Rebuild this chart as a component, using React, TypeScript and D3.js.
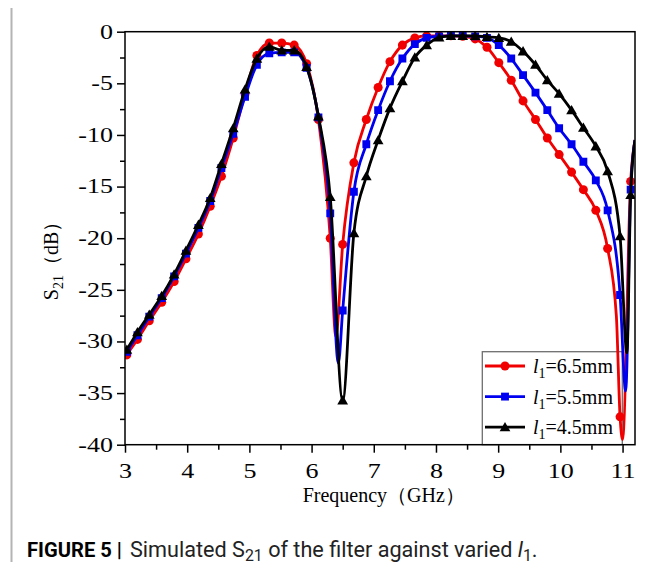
import React, { useEffect, useRef } from 'react';
import * as d3 from 'd3';

// marker frequencies (GHz), shared by the three curves
const freqs = [
  3.03, 3.2, 3.39, 3.59, 3.79, 3.98, 4.18, 4.37, 4.55, 4.74, 4.93, 5.12, 5.32, 5.52, 5.72,
  5.92, 6.11, 6.3, 6.5, 6.68, 6.88, 7.07, 7.26, 7.46, 7.66, 7.85, 8.05, 8.24, 8.43, 8.63,
  8.82, 9.01, 9.21, 9.4, 9.6, 9.79, 9.98, 10.18, 10.37, 10.57, 10.76, 10.96, 11.13,
];

// S21 (dB) for l1 = 6.5 / 5.5 / 4.5 mm
const red65 = [
  -31.3, -29.8, -28.0, -26.2, -24.2, -22.0, -19.6, -16.9, -14.0, -10.3, -6.0, -2.3, -1.1, -1.1, -1.3,
  -3.1, -8.5, -20.0, -20.6, -12.7, -8.5, -5.4, -2.9, -1.3, -0.6, -0.4, -0.4, -0.4, -0.45, -0.7,
  -1.5, -3.0, -4.7, -6.7, -8.5, -10.3, -11.9, -13.6, -15.3, -17.3, -21.0, -37.3, -14.5,
];
const blue55 = [
  -31.0, -29.4, -27.6, -25.8, -23.7, -21.5, -19.0, -16.4, -13.2, -9.9, -6.3, -3.2, -2.1, -2.0, -2.0,
  -3.5, -8.3, -17.6, -27.0, -15.5, -10.9, -7.6, -4.8, -2.6, -1.2, -0.6, -0.45, -0.4, -0.4, -0.45,
  -0.6, -1.3, -2.6, -4.2, -5.9, -7.6, -9.35, -10.9, -12.6, -14.4, -17.3, -25.5, -15.3,
];
const black45 = [
  -30.8, -29.1, -27.4, -25.6, -23.5, -21.2, -18.7, -16.1, -12.8, -9.35, -5.6, -2.6, -1.45, -1.8, -1.8,
  -3.4, -8.2, -16.0, -35.7, -19.5, -14.0, -10.5, -7.4, -4.8, -2.5, -1.3, -0.55, -0.4, -0.4, -0.4,
  -0.5, -0.6, -0.96, -1.9, -3.2, -4.7, -6.0, -7.6, -9.3, -11.1, -13.5, -19.8, -15.8,
];

// line-only points (curve ends and notch bottoms between markers)
const red65Extra = [[3.0, -31.6], [6.39, -29.5], [10.9, -27.5], [11.0, -39.5], [11.2, -10.5]];
const blue55Extra = [[3.0, -31.3], [6.43, -32.1], [11.05, -34.8], [11.2, -10.5]];
const black45Extra = [[3.0, -31.1], [11.07, -31.1], [11.2, -10.5]];

const legendLabels = ['=6.5mm', '=5.5mm', '=4.5mm'];
const xTicks = [3, 4, 5, 6, 7, 8, 9, 10, 11];
const xMinor = [3.5, 4.5, 5.5, 6.5, 7.5, 8.5, 9.5, 10.5];
const yTicks = [0, -5, -10, -15, -20, -25, -30, -35, -40];
const yMinor = [-2.5, -7.5, -12.5, -17.5, -22.5, -27.5, -32.5, -37.5];

const series = [
  { vals: red65, extra: red65Extra, color: '#f00000', symbol: d3.symbolCircle, size: 64, label: legendLabels[0] },
  { vals: blue55, extra: blue55Extra, color: '#0000f0', symbol: d3.symbolSquare, size: 62, label: legendLabels[1] },
  { vals: black45, extra: black45Extra, color: '#000000', symbol: d3.symbolTriangle, size: 50, label: legendLabels[2] },
];

const W = 664;
const H = 570;
const margin = { left: 125, right: 29, top: 31.7, bottom: 125.3 };
const serif = '"Liberation Serif", "Times New Roman", serif';
const sans = 'Roboto, "Noto Sans", sans-serif';
const tickStretch = 1.3; // tick numerals in the source are drawn wide

export default function App() {
  const svgRef = useRef<SVGSVGElement>(null);

  useEffect(() => {
    const svg = d3.select(svgRef.current);
    svg.selectAll('*').remove();

    const pw = W - margin.left - margin.right;
    const ph = H - margin.top - margin.bottom;

    const x = d3.scaleLinear().domain([3, 11.2]).range([margin.left, margin.left + pw]);
    const y = d3.scaleLinear().domain([-40, 0]).range([margin.top + ph, margin.top]);

    // outer figure border
    svg.append('rect')
      .attr('x', 11.5).attr('y', 6.5).attr('width', 650).attr('height', 600)
      .attr('fill', 'none').attr('stroke', '#b4b4b4').attr('stroke-width', 2);

    svg.append('defs').append('clipPath').attr('id', 'plot-clip')
      .append('rect').attr('x', margin.left).attr('y', margin.top).attr('width', pw).attr('height', ph);

    // axes
    const gy = svg.append('g').attr('transform', `translate(${margin.left},0)`);
    gy.call(d3.axisLeft(y).tickValues(yTicks).tickSize(8).tickPadding(4).tickFormat((d) => `${d}`));
    gy.call((g) => g.select('.domain').remove());
    gy.selectAll('.tick text').attr('x', -12 / tickStretch);
    const gy2 = svg.append('g').attr('transform', `translate(${margin.left},0)`);
    gy2.call(d3.axisLeft(y).tickValues(yMinor).tickSize(5).tickFormat(() => ''));
    gy2.call((g) => g.select('.domain').remove());

    const gx = svg.append('g').attr('transform', `translate(0,${margin.top + ph})`);
    gx.call(d3.axisBottom(x).tickValues(xTicks).tickSize(8).tickPadding(11).tickFormat((d) => `${d}`));
    gx.call((g) => g.select('.domain').remove());
    const gx2 = svg.append('g').attr('transform', `translate(0,${margin.top + ph})`);
    gx2.call(d3.axisBottom(x).tickValues(xMinor).tickSize(5).tickFormat(() => ''));
    gx2.call((g) => g.select('.domain').remove());

    svg.selectAll('g').attr('font-family', null).attr('font-size', null);
    svg.selectAll('.tick line').attr('stroke', '#000').attr('stroke-width', 1.5);
    svg.selectAll('.tick text')
      .style('font-family', serif).style('font-size', '20px').attr('fill', '#000')
      .attr('transform', `scale(${tickStretch},1)`);

    // legend box (curves pass over its right edge)
    const lg = svg.append('g');
    lg.append('rect')
      .attr('x', 482.3).attr('y', 351.7).attr('width', 140).attr('height', 93)
      .attr('fill', '#fff').attr('stroke', '#6e6e6e').attr('stroke-width', 1.3);
    series.forEach((s, i) => {
      const ly = 366 + i * 30.6;
      lg.append('line').attr('x1', 485).attr('x2', 525).attr('y1', ly).attr('y2', ly)
        .attr('stroke', s.color).attr('stroke-width', 2.8);
      lg.append('path').attr('d', d3.symbol().type(s.symbol).size(s.size)())
        .attr('transform', `translate(505,${ly + (s.symbol === d3.symbolTriangle ? 1 : 0)})`)
        .attr('fill', s.color);
      const t = lg.append('text').attr('x', 533).attr('y', ly + 7)
        .style('font-family', serif).style('font-size', '20px').attr('fill', '#000');
      t.append('tspan').attr('font-style', 'italic').text('l');
      t.append('tspan').style('font-size', '14px').attr('dy', 5).text('1');
      t.append('tspan').attr('dy', -5).text(s.label);
    });

    // curves
    const plot = svg.append('g').attr('clip-path', 'url(#plot-clip)');
    const line = d3.line<number[]>()
      .x((d) => x(d[0]))
      .y((d) => y(d[1]))
      .curve(d3.curveMonotoneX);
    series.forEach((s) => {
      const pts = freqs.map((f, i) => [f, s.vals[i]]).concat(s.extra).sort((a, b) => a[0] - b[0]);
      plot.append('path').attr('d', line(pts))
        .attr('fill', 'none').attr('stroke', s.color).attr('stroke-width', 2.8)
        .attr('stroke-linejoin', 'round');
      plot.selectAll(null).data(freqs).enter().append('path')
        .attr('d', d3.symbol().type(s.symbol).size(s.size)())
        .attr('transform', (f, i) => `translate(${x(f)},${y(s.vals[i]) + (s.symbol === d3.symbolTriangle ? 1 : 0)})`)
        .attr('fill', s.color);
    });

    // plot frame
    svg.append('rect')
      .attr('x', margin.left).attr('y', margin.top).attr('width', pw).attr('height', ph)
      .attr('fill', 'none').attr('stroke', '#000').attr('stroke-width', 1.5);

    // axis titles
    const xt = svg.append('text').attr('x', 302.7).attr('y', 501.5)
      .style('font-family', serif).style('font-size', '20px').attr('fill', '#000');
    xt.text('Frequency（GHz）');

    const yt = svg.append('text').attr('transform', 'translate(58,256) rotate(-90)')
      .attr('text-anchor', 'middle').style('font-family', serif).style('font-size', '20px').attr('fill', '#000');
    yt.append('tspan').text('S');
    yt.append('tspan').style('font-size', '14px').attr('dy', 5).text('21');
    yt.append('tspan').attr('dy', -5).text('（dB）');

    // caption: bold lead-in, then regular text fitted to the reference width
    const bold = svg.append('text').attr('x', 27).attr('y', 557)
      .style('font-family', sans).style('font-size', '16px').style('font-weight', 'bold').attr('fill', '#000')
      .text('FIGURE 5 |');
    const bw = (bold.node() as SVGTextElement).getComputedTextLength();
    if (bw > 0) bold.style('font-size', `${(16 * 95) / bw}px`);

    const cap = svg.append('text').attr('x', 130).attr('y', 557)
      .style('font-family', sans).style('font-size', '15px').attr('fill', '#222');
    cap.append('tspan').text('Simulated S');
    cap.append('tspan').style('font-size', '11px').attr('dy', 4).text('21');
    cap.append('tspan').attr('dy', -4).text(' of the filter against varied ');
    cap.append('tspan').attr('font-style', 'italic').text('l');
    cap.append('tspan').style('font-size', '11px').attr('dy', 4).text('1');
    cap.append('tspan').attr('dy', -4).text('.');
    const cw = (cap.node() as SVGTextElement).getBBox().width;
    if (cw > 0) {
      const k = 408 / cw;
      cap.style('font-size', `${15 * k}px`);
      cap.selectAll('tspan').filter((_, i) => i === 1 || i === 4).style('font-size', `${11 * k}px`);
    }
  }, []);

  return <svg ref={svgRef} width={W} height={H} style={{ display: 'block', margin: '-8px' }} />;
}
